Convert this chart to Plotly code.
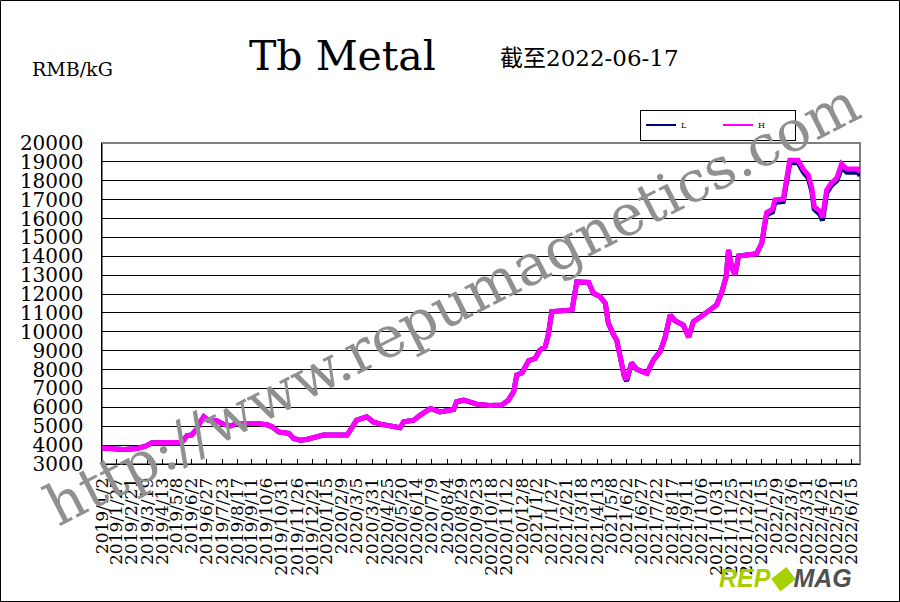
import plotly.graph_objects as go

# ---- data ----
dates = [
    "2019-01-02", "2019-01-16", "2019-02-07", "2019-03-02", "2019-03-16", "2019-03-27",
    "2019-05-14", "2019-05-19", "2019-05-25", "2019-06-02", "2019-06-11", "2019-06-16",
    "2019-06-22", "2019-06-30", "2019-07-14", "2019-07-25", "2019-08-06", "2019-08-17",
    "2019-09-19", "2019-10-06", "2019-10-15", "2019-10-26", "2019-11-12", "2019-11-20",
    "2019-12-01", "2019-12-12", "2019-12-29", "2020-01-09", "2020-02-18", "2020-02-26",
    "2020-03-05", "2020-03-22", "2020-04-02", "2020-04-14", "2020-05-17", "2020-05-23",
    "2020-06-09", "2020-06-20", "2020-07-07", "2020-07-23", "2020-08-15", "2020-08-20",
    "2020-09-01", "2020-09-23", "2020-10-15", "2020-11-04", "2020-11-15", "2020-11-24",
    "2020-11-29", "2020-12-08", "2020-12-19", "2020-12-30", "2021-01-07", "2021-01-16",
    "2021-01-21", "2021-01-27", "2021-03-02", "2021-03-10", "2021-03-30", "2021-04-07",
    "2021-04-18", "2021-04-27", "2021-05-02", "2021-05-11", "2021-05-16", "2021-05-22",
    "2021-05-29", "2021-06-02", "2021-06-10", "2021-06-19", "2021-07-06", "2021-07-17",
    "2021-07-28", "2021-08-05", "2021-08-14", "2021-08-22", "2021-09-05", "2021-09-14",
    "2021-09-22", "2021-10-06", "2021-10-20", "2021-10-31", "2021-11-09", "2021-11-16",
    "2021-11-20", "2021-11-25", "2021-12-01", "2021-12-07", "2022-01-06", "2022-01-15",
    "2022-01-19", "2022-01-23", "2022-02-02", "2022-02-06", "2022-02-20", "2022-02-26",
    "2022-03-03", "2022-03-17", "2022-03-26", "2022-04-03", "2022-04-09", "2022-04-13",
    "2022-04-23", "2022-04-27", "2022-05-04", "2022-05-12", "2022-05-21", "2022-05-29",
    "2022-06-07", "2022-06-26", "2022-06-29",
]

h_values = [
    3850, 3820, 3770, 3820, 3940, 4120,
    4150, 4260, 4510, 4540, 4880, 5230,
    5500, 5320, 5290, 5110, 5020, 5150,
    5150, 5080, 4970, 4700, 4620, 4350,
    4260, 4300, 4470, 4530, 4530, 4970,
    5320, 5500, 5230, 5110, 4920, 5230,
    5320, 5590, 5940, 5760, 5890, 6300,
    6380, 6170, 6100, 6120, 6380, 6830,
    7710, 7830, 8470, 8590, 9040, 9210,
    9830, 11070, 11160, 12640, 12610, 12040,
    11870, 11510, 10450, 9830, 9570, 8680,
    7620, 7480, 8360, 8010, 7800, 8510,
    8950, 9660, 10890, 10590, 10360, 9710,
    10540, 10840, 11160, 11420, 12130, 12930,
    14340, 13460, 13020, 14020, 14130, 14700,
    15580, 16320, 16500, 16990, 17030, 18050,
    19080, 19080, 18590, 18320, 17610, 16640,
    16370, 16070, 17520, 17880, 18140, 18900,
    18620, 18620, 18440,
]

l_values = [
    3850, 3820, 3770, 3820, 3940, 4120,
    4150, 4260, 4510, 4540, 4880, 5230,
    5500, 5320, 5290, 5110, 5020, 5150,
    5150, 5080, 4970, 4700, 4620, 4350,
    4260, 4300, 4470, 4530, 4530, 4970,
    5320, 5500, 5230, 5110, 4920, 5230,
    5320, 5590, 5940, 5760, 5890, 6300,
    6380, 6170, 6100, 6120, 6380, 6830,
    7710, 7830, 8470, 8590, 9040, 9210,
    9830, 11070, 11160, 12640, 12610, 12040,
    11870, 11510, 10450, 9830, 9570, 8680,
    7620, 7400, 8360, 8010, 7800, 8510,
    8950, 9660, 10890, 10590, 10360, 9710,
    10540, 10840, 11160, 11420, 12130, 12930,
    14340, 13460, 13020, 14020, 14130, 14700,
    15500, 16200, 16350, 16850, 16900, 17900,
    18950, 18950, 18450, 18150, 17450, 16500,
    16200, 15900, 17350, 17750, 18000, 18700,
    18450, 18450, 18250,
]

tick_dates = [
    "2019-01-02", "2019-01-27", "2019-02-21", "2019-03-19", "2019-04-13", "2019-05-08",
    "2019-06-02", "2019-06-27", "2019-07-23", "2019-08-17", "2019-09-11", "2019-10-06",
    "2019-10-31", "2019-11-26", "2019-12-21", "2020-01-15", "2020-02-09", "2020-03-05",
    "2020-03-31", "2020-04-25", "2020-05-20", "2020-06-14", "2020-07-09", "2020-08-04",
    "2020-08-29", "2020-09-23", "2020-10-18", "2020-11-12", "2020-12-08", "2021-01-02",
    "2021-01-27", "2021-02-21", "2021-03-18", "2021-04-13", "2021-05-08", "2021-06-02",
    "2021-06-27", "2021-07-22", "2021-08-17", "2021-09-11", "2021-10-06", "2021-10-31",
    "2021-11-25", "2021-12-21", "2022-01-15", "2022-02-09", "2022-03-06", "2022-03-31",
    "2022-04-26", "2022-05-21", "2022-06-15",
]
tick_text = ["%d/%d/%d" % tuple(int(p) for p in t.split("-")) for t in tick_dates]

y_ticks = list(range(3000, 20001, 1000))

SERIF = "DejaVu Serif"

fig = go.Figure()
fig.add_trace(go.Scatter(x=dates, y=l_values, mode="lines", name="L",
                         line=dict(color="#000080", width=5), showlegend=False))
fig.add_trace(go.Scatter(x=dates, y=h_values, mode="lines", name="H",
                         line=dict(color="#FF00FF", width=5), showlegend=False))
# legend entries (thin lines like the reference legend)
fig.add_trace(go.Scatter(x=[None], y=[None], mode="lines", name="L",
                         line=dict(color="#000080", width=2)))
fig.add_trace(go.Scatter(x=[None], y=[None], mode="lines", name="H",
                         line=dict(color="#FF00FF", width=2)))

L, R, T, B = 102, 40, 143, 138
W, H = 900, 602
pw, ph = W - L - R, H - T - B


def px(xp):
    return (xp - L) / pw


def py(yp):
    return (H - B - yp) / ph


fig.update_layout(
    width=W, height=H, autosize=False,
    margin=dict(l=L, r=R, t=T, b=B, autoexpand=False),
    paper_bgcolor="white", plot_bgcolor="white",
    font=dict(family=SERIF, color="black"),
    hovermode=False,
    xaxis=dict(
        type="date", range=["2019-01-02", "2022-06-29"],
        tickmode="array", tickvals=tick_dates, ticktext=tick_text,
        tickangle=-90, ticks="inside", ticklen=5, tickcolor="black", tickwidth=1,
        showgrid=False, showline=True, linecolor="black", linewidth=1,
        zeroline=False, ticklabelstandoff=6,
        tickfont=dict(family=SERIF, size=17, color="black"),
    ),
    yaxis=dict(
        range=[3000, 20000], tickmode="array", tickvals=y_ticks,
        ticktext=[str(v) for v in y_ticks],
        showgrid=True, gridcolor="black", gridwidth=1,
        showline=True, linecolor="black", linewidth=1.5, zeroline=False,
        ticks="", ticklabelstandoff=13,
        tickfont=dict(family=SERIF, size=20, color="black"),
    ),
    legend=dict(
        orientation="h", x=px(640), y=py(125), xanchor="left", yanchor="middle",
        bordercolor="black", borderwidth=1, bgcolor="white",
        font=dict(family=SERIF, size=8, color="black"),
        entrywidth=32, entrywidthmode="pixels", itemwidth=30,
    ),
    shapes=[
        # gray frame on the plot area
        dict(type="rect", xref="paper", yref="paper", x0=0, x1=1, y0=0, y1=1,
             line=dict(color="#808080", width=2), layer="below"),
        # outer border of the image
        dict(type="rect", xref="paper", yref="paper",
             x0=px(0.5), x1=px(899.5), y0=py(601.5), y1=py(0.5),
             line=dict(color="black", width=1)),
    ],
    annotations=[
        dict(text="Tb Metal", xref="paper", yref="paper", x=px(342), y=py(56),
             showarrow=False, xanchor="center", yanchor="middle",
             font=dict(family=SERIF, size=41, color="black")),
        dict(text="RMB/kG", xref="paper", yref="paper", x=px(72), y=py(69),
             showarrow=False, xanchor="center", yanchor="middle",
             font=dict(family=SERIF, size=19, color="black")),
        dict(text="截至2022-06-17", xref="paper", yref="paper", x=px(589), y=py(58),
             showarrow=False, xanchor="center", yanchor="middle",
             font=dict(family=SERIF + ", Noto Sans CJK SC", size=23, color="black")),
        dict(text="http://www.repumagnetics.com", xref="paper", yref="paper",
             x=px(452), y=py(304), showarrow=False, textangle=-27,
             xanchor="center", yanchor="middle",
             font=dict(family=SERIF, size=57, color="#909090")),
        dict(text="<b><i><span style='color:#a8cf00'>REP</span>"
                  "<span style='color:#a8cf00;font-size:30px'>◆</span>"
                  "<span style='color:#505050'>MAG</span></i></b>",
             xref="paper", yref="paper", x=px(785), y=py(576), showarrow=False,
             xanchor="center", yanchor="middle",
             font=dict(family="Liberation Sans", size=25)),
    ],
)

fig.write_html(
    "out.html",
    config={"displayModeBar": False, "staticPlot": True},
    post_script="document.body.style.margin='0';document.body.style.overflow='hidden';",
)
